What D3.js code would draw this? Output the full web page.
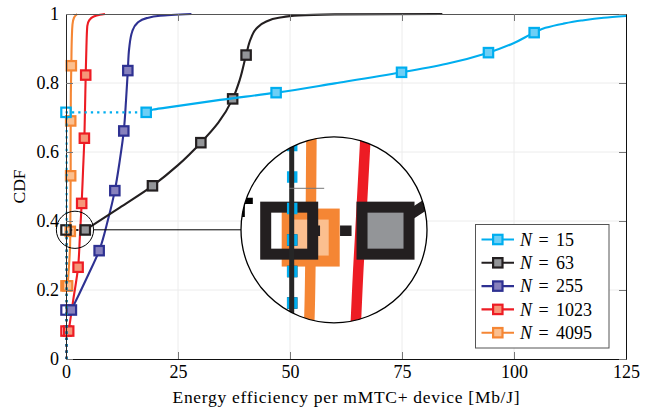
<!DOCTYPE html>
<html>
<head>
<meta charset="utf-8">
<script src="https://cdn.jsdelivr.net/npm/d3@7"></script>
<style>
    body { margin: 0; background: #fff; }
</style>
</head>
<body>
<svg id="chart" width="650" height="407" font-family="'Liberation Serif', 'Times New Roman', Times, 'DejaVu Serif', serif"></svg>
<script>
// tick values
var xTicks = [0, 25, 50, 75, 100, 125];
var yTicks = [0, 0.2, 0.4, 0.6, 0.8, 1];

// series: N = number of devices
var nValues = [15, 63, 255, 1023, 4095];
var lineColors = ["#00aeef", "#231f20", "#2e3192", "#ed1c24", "#f58634"];
var fillColors = ["#6dcff6", "#939598", "#8781bd", "#f69679", "#fbbf8f"];

// CDF mass at zero efficiency (hollow marker at x = 0)
var zeroMass = [0.715, 0.374, 0.142, 0.081, 0.212];

// curve points [x, cdf]
var curve15 = [[17.9, 0.715], [19.5, 0.723], [22, 0.728], [34.4, 0.751], [46.9, 0.772], [60, 0.799],
    [74.9, 0.831], [85, 0.856], [94.3, 0.888], [100, 0.916], [104.5, 0.946], [107, 0.960],
    [111, 0.972], [115, 0.981], [120, 0.989], [125, 0.994]];
var curve63 = [[4.3, 0.374], [12, 0.439], [19.3, 0.502], [25, 0.562], [30.1, 0.627], [34, 0.685],
    [37.2, 0.754], [38.8, 0.81], [40.2, 0.881], [41.3, 0.93], [42.5, 0.958], [44.5, 0.977],
    [47.5, 0.989], [52, 0.996], [60, 0.999], [84, 1.0]];
var curve255 = [[1.2, 0.142], [3, 0.19], [5, 0.245], [7.4, 0.314], [9.3, 0.4], [10.9, 0.488],
    [12, 0.575], [12.9, 0.661], [13.4, 0.75], [13.8, 0.836], [14.1, 0.9], [14.8, 0.95],
    [16, 0.975], [18, 0.988], [21, 0.995], [28, 1.0]];
var curve1023 = [[0.6, 0.081], [1.6, 0.17], [2.7, 0.266], [3.1, 0.355], [3.5, 0.451], [3.8, 0.545],
    [4.1, 0.64], [4.25, 0.73], [4.4, 0.823], [4.55, 0.9], [4.75, 0.965], [5.2, 0.982],
    [6.2, 0.993], [7.6, 0.998], [8.7, 1.0]];
var curve4095 = [[0.35, 0.212], [0.7, 0.275], [0.9, 0.323], [0.96, 0.37], [1.0, 0.45], [1.04, 0.531],
    [1.05, 0.61], [1.05, 0.69], [1.08, 0.77], [1.19, 0.85], [1.3, 0.93], [1.45, 0.97],
    [1.8, 0.99], [2.5, 1.0]];

// filled markers
var marks15 = [[17.9, 0.715], [46.9, 0.772], [74.9, 0.831], [94.3, 0.888], [104.5, 0.946]];
var marks63 = [[4.3, 0.374], [19.3, 0.502], [30.1, 0.627], [37.2, 0.754], [40.2, 0.881]];
var marks255 = [[1.2, 0.142], [7.4, 0.314], [10.9, 0.488], [12.9, 0.661], [13.8, 0.836]];
var marks1023 = [[0.6, 0.081], [2.7, 0.266], [3.5, 0.451], [4.1, 0.64], [4.4, 0.823]];
var marks4095 = [[0.35, 0.212], [0.96, 0.37], [1.04, 0.531], [1.05, 0.69], [1.19, 0.85]];

var curves = [curve15, curve63, curve255, curve1023, curve4095];
var marks = [marks15, marks63, marks255, marks1023, marks4095];

// spy (zoom circle) around this data point
var spyAt = [2, 0.3745];
var spyMag = 5;

var svg = d3.select("#chart");
var x = d3.scaleLinear().domain([0, 125]).range([66, 626]);
var y = d3.scaleLinear().domain([0, 1]).range([359, 14]);

var MS = 9.4, MW = 2.2, LW = 2.1;

// grid lines (kept out of the magnified copy)
var grid = svg.append("g");
grid.selectAll("line.gx").data(xTicks.slice(1, -1)).enter().append("line")
    .attr("x1", function (d) { return x(d); }).attr("x2", function (d) { return x(d); })
    .attr("y1", y(0)).attr("y2", y(1))
    .attr("stroke", "#ececec").attr("stroke-width", 1);
grid.selectAll("line.gy").data(yTicks.slice(1, -1)).enter().append("line")
    .attr("y1", function (d) { return y(d); }).attr("y2", function (d) { return y(d); })
    .attr("x1", x(0)).attr("x2", x(125))
    .attr("stroke", "#ececec").attr("stroke-width", 1);

var content = svg.append("g").attr("id", "plotContent");

function marker(g, d, stroke, fill) {
    g.append("rect")
        .attr("x", x(d[0]) - MS / 2).attr("y", y(d[1]) - MS / 2)
        .attr("width", MS).attr("height", MS)
        .attr("fill", fill).attr("stroke", stroke).attr("stroke-width", MW);
}

var line = d3.line()
    .curve(d3.curveMonotoneY)
    .x(function (d) { return x(d[0]); })
    .y(function (d) { return y(d[1]); });

// last series at the bottom
for (var i = nValues.length - 1; i >= 0; i--) {
    var g = content.append("g");
    var c = lineColors[i];
    // jump at zero: dotted vertical + horizontal
    g.append("path")
        .attr("d", "M" + (x(0) + 0.6) + "," + y(0) + "V" + y(zeroMass[i]) + "H" + x(curves[i][0][0]))
        .attr("fill", "none").attr("stroke", c).attr("stroke-width", LW)
        .attr("stroke-dasharray", "2.3,4");
    g.append("path")
        .attr("d", line(curves[i]))
        .attr("fill", "none").attr("stroke", c).attr("stroke-width", LW);
    marker(g, [0, zeroMass[i]], c, "none");
    marks[i].forEach(function (d) { marker(g, d, c, fillColors[i]); });
}

// axes box with inward ticks
function styleAxis(a, domainColor) {
    a.select(".domain").attr("stroke", domainColor).attr("stroke-width", 1);
    a.selectAll(".tick line").attr("stroke", "#777").attr("stroke-width", 1)
        .attr("vector-effect", "non-scaling-stroke");
    a.attr("font-family", null).attr("font-size", 18);
    a.selectAll("text").attr("fill", "#000");
}
var ax;
ax = content.append("g").attr("transform", "translate(0," + y(0) + ")")
    .call(d3.axisBottom(x).tickValues(xTicks).tickSize(-7).tickSizeOuter(0).tickPadding(6).tickFormat(String));
styleAxis(ax, "#111");
ax = content.append("g").attr("transform", "translate(0," + y(1) + ")")
    .call(d3.axisTop(x).tickValues(xTicks).tickSize(-7).tickSizeOuter(0).tickFormat(function () { return ""; }));
styleAxis(ax, "#555");
ax = content.append("g").attr("transform", "translate(" + x(0) + ",0)")
    .call(d3.axisLeft(y).tickValues(yTicks).tickSize(-7).tickSizeOuter(0).tickPadding(7).tickFormat(String));
styleAxis(ax, "#262626");
ax = content.append("g").attr("transform", "translate(" + x(125) + ",0)")
    .call(d3.axisRight(y).tickValues(yTicks).tickSize(-7).tickSizeOuter(0).tickFormat(function () { return ""; }));
styleAxis(ax, "#111");

// axis titles
svg.append("text")
    .attr("x", 346).attr("y", 403)
    .attr("text-anchor", "middle").attr("font-size", 17.5)
    .attr("textLength", 347).attr("lengthAdjust", "spacing")
    .text("Energy efficiency per mMTC+ device [Mb/J]");
svg.append("text")
    .attr("transform", "translate(25,186.5) rotate(-90)")
    .attr("text-anchor", "middle").attr("font-size", 17.5)
    .text("CDF");

// spy: small circle, connector, magnified circle
var sx = x(spyAt[0]), sy = y(spyAt[1]);
var bigR = 93, smallR = bigR / spyMag;
var bx = 334, by = sy;

svg.append("clipPath").attr("id", "spyClip")
    .append("circle").attr("cx", bx).attr("cy", by).attr("r", bigR);
var spy = svg.append("g").attr("clip-path", "url(#spyClip)");
spy.append("circle").attr("cx", bx).attr("cy", by).attr("r", bigR).attr("fill", "#fff");
spy.append("use").attr("href", "#plotContent")
    .attr("transform", "translate(" + bx + "," + by + ") scale(" + spyMag + ") translate(" + (-sx) + "," + (-sy) + ")");

svg.append("circle").attr("cx", sx).attr("cy", sy).attr("r", smallR)
    .attr("fill", "none").attr("stroke", "#000").attr("stroke-width", 1);
svg.append("line").attr("x1", sx + smallR).attr("x2", bx - bigR).attr("y1", sy).attr("y2", sy)
    .attr("stroke", "#000").attr("stroke-width", 1);
svg.append("circle").attr("cx", bx).attr("cy", by).attr("r", bigR)
    .attr("fill", "none").attr("stroke", "#000").attr("stroke-width", 1.3);

// legend
var lg = svg.append("g").attr("transform", "translate(475.5,224.5)");
lg.append("rect").attr("width", 133.5).attr("height", 123.5)
    .attr("fill", "#fff").attr("stroke", "#555").attr("stroke-width", 1);
nValues.forEach(function (n, k) {
    var ry = 15 + k * 23.3;
    var row = lg.append("g").attr("transform", "translate(0," + ry + ")");
    row.append("line").attr("x1", 6).attr("x2", 38.5).attr("y1", 0).attr("y2", 0)
        .attr("stroke", lineColors[k]).attr("stroke-width", LW);
    row.append("rect").attr("x", 22.3 - MS / 2).attr("y", -MS / 2).attr("width", MS).attr("height", MS)
        .attr("fill", fillColors[k]).attr("stroke", lineColors[k]).attr("stroke-width", MW);
    var t = row.append("text").attr("y", 6.3).attr("font-size", 18);
    t.append("tspan").attr("x", 44.5).attr("font-style", "italic").text("N");
    t.append("tspan").attr("x", 63).text("=");
    t.append("tspan").attr("x", 80.5).text(String(n));
});
</script>
</body>
</html>
